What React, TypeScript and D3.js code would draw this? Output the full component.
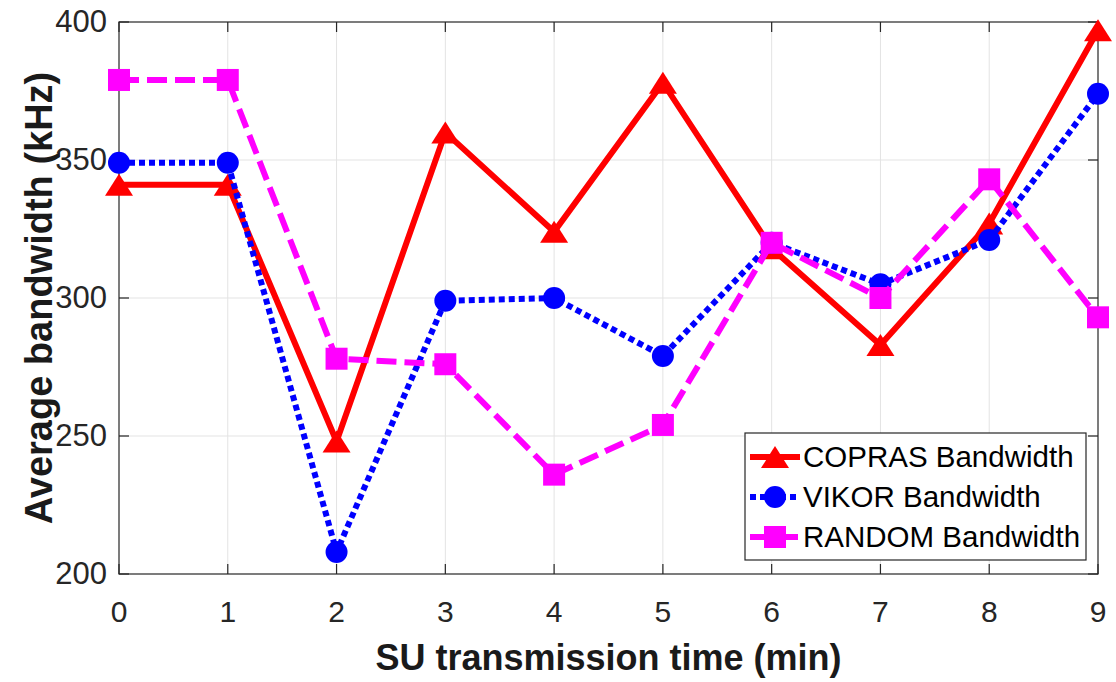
import React, { useEffect, useRef } from "react";
import * as d3 from "d3";

const times = [0, 1, 2, 3, 4, 5, 6, 7, 8, 9];
const coprasBw = [341, 341, 248, 360, 324, 378, 318, 283, 327, 397];
const vikorBw = [349, 349, 208, 299, 300, 279, 320, 305, 321, 374];
const randomBw = [379, 379, 278, 276, 236, 254, 320, 300, 343, 293];
const yTicks = [200, 250, 300, 350, 400];
const seriesNames = ["COPRAS Bandwidth", "VIKOR Bandwidth", "RANDOM Bandwidth"];

export default function App() {
  const svgRef = useRef<SVGSVGElement>(null);

  useEffect(() => {
    const svg = d3.select(svgRef.current);
    svg.selectAll("*").remove();

    const width = 1116;
    const height = 682;
    const margin = { top: 22, right: 18, bottom: 108, left: 119 };
    const font = "'Liberation Sans', Arial, sans-serif";
    const axisColor = "#262626";

    const x = d3
      .scaleLinear()
      .domain([0, 9])
      .range([margin.left, width - margin.right]);
    const y = d3
      .scaleLinear()
      .domain([200, 400])
      .range([height - margin.bottom, margin.top]);

    svg.append("rect").attr("width", width).attr("height", height).attr("fill", "#fff");

    // grid
    const grid = svg.append("g").attr("stroke", "#e3e3e3").attr("stroke-width", 1);
    times.slice(1, -1).forEach((t) => {
      grid.append("line").attr("x1", x(t)).attr("x2", x(t)).attr("y1", y(200)).attr("y2", y(400));
    });
    yTicks.slice(1, -1).forEach((v) => {
      grid.append("line").attr("x1", x(0)).attr("x2", x(9)).attr("y1", y(v)).attr("y2", y(v));
    });

    // box + inward ticks on all sides
    const box = svg.append("g").attr("stroke", axisColor).attr("stroke-width", 1.2).attr("fill", "none");
    box.append("rect")
      .attr("x", x(0))
      .attr("y", y(400))
      .attr("width", x(9) - x(0))
      .attr("height", y(200) - y(400));
    const tl = 10;
    times.forEach((t) => {
      box.append("line").attr("x1", x(t)).attr("x2", x(t)).attr("y1", y(200)).attr("y2", y(200) - tl);
      box.append("line").attr("x1", x(t)).attr("x2", x(t)).attr("y1", y(400)).attr("y2", y(400) + tl);
    });
    yTicks.forEach((v) => {
      box.append("line").attr("x1", x(0)).attr("x2", x(0) + tl).attr("y1", y(v)).attr("y2", y(v));
      box.append("line").attr("x1", x(9)).attr("x2", x(9) - tl).attr("y1", y(v)).attr("y2", y(v));
    });

    // tick labels
    svg.append("g")
      .selectAll("text")
      .data(times)
      .enter()
      .append("text")
      .attr("x", (d) => x(d))
      .attr("y", y(200) + 48)
      .attr("text-anchor", "middle")
      .attr("font-family", font)
      .attr("font-size", 30)
      .attr("fill", axisColor)
      .text((d) => d);

    svg.append("g")
      .selectAll("text")
      .data(yTicks)
      .enter()
      .append("text")
      .attr("x", x(0) - 12)
      .attr("y", (d) => y(d) + 10)
      .attr("text-anchor", "end")
      .attr("font-family", font)
      .attr("font-size", 31)
      .attr("fill", axisColor)
      .text((d) => d);

    // axis labels
    svg.append("text")
      .attr("x", (x(0) + x(9)) / 2)
      .attr("y", 670)
      .attr("text-anchor", "middle")
      .attr("font-family", font)
      .attr("font-weight", "bold")
      .attr("font-size", 36)
      .attr("fill", "#1a1a1a")
      .text("SU transmission time (min)");

    svg.append("text")
      .attr("transform", `translate(52,${(y(200) + y(400)) / 2}) rotate(-90)`)
      .attr("text-anchor", "middle")
      .attr("font-family", font)
      .attr("font-weight", "bold")
      .attr("font-size", 38)
      .attr("fill", "#1a1a1a")
      .text("Average bandwidth (kHz)");

    // markers
    const drawMarker = (g: any, kind: string, cx: number, cy: number, color: string) => {
      if (kind === "tri") {
        const w = 28, h = 22;
        g.append("path")
          .attr("d", `M${cx},${cy - h / 2}L${cx + w / 2},${cy + h / 2}L${cx - w / 2},${cy + h / 2}Z`)
          .attr("fill", color);
      } else if (kind === "circ") {
        g.append("circle").attr("cx", cx).attr("cy", cy).attr("r", 11).attr("fill", color);
      } else {
        g.append("rect").attr("x", cx - 11).attr("y", cy - 11).attr("width", 22).attr("height", 22).attr("fill", color);
      }
    };

    const series = [
      { values: coprasBw, color: "#ff0000", dash: null, marker: "tri" },
      { values: vikorBw, color: "#0000ff", dash: "6,4", marker: "circ" },
      { values: randomBw, color: "#ff00ff", dash: "20,8", marker: "sq" },
    ];

    const line = d3
      .line<number>()
      .x((_, i) => x(times[i]))
      .y((d) => y(d));

    series.forEach((s) => {
      const g = svg.append("g");
      g.append("path")
        .attr("d", line(s.values))
        .attr("fill", "none")
        .attr("stroke", s.color)
        .attr("stroke-width", 6)
        .attr("stroke-dasharray", s.dash)
        .attr("stroke-linejoin", "miter");
      s.values.forEach((v, i) => drawMarker(g, s.marker, x(times[i]), y(v), s.color));
    });

    // legend
    const lg = svg.append("g");
    lg.append("rect")
      .attr("x", 745)
      .attr("y", 433)
      .attr("width", 341)
      .attr("height", 127)
      .attr("fill", "#fff")
      .attr("stroke", axisColor)
      .attr("stroke-width", 1.2);
    series.forEach((s, i) => {
      const cy = 457 + i * 40;
      lg.append("line")
        .attr("x1", 750)
        .attr("x2", 800)
        .attr("y1", cy)
        .attr("y2", cy)
        .attr("stroke", s.color)
        .attr("stroke-width", 6)
        .attr("stroke-dasharray", s.dash);
      drawMarker(lg, s.marker, 775, cy, s.color);
      lg.append("text")
        .attr("x", 803)
        .attr("y", cy + 10)
        .attr("font-family", font)
        .attr("font-size", 29.5)
        .attr("fill", "#000")
        .text(seriesNames[i]);
    });
  }, []);

  return (
    <svg
      ref={svgRef}
      width={1116}
      height={682}
      style={{ position: "absolute", left: 0, top: 0 }}
    ></svg>
  );
}
